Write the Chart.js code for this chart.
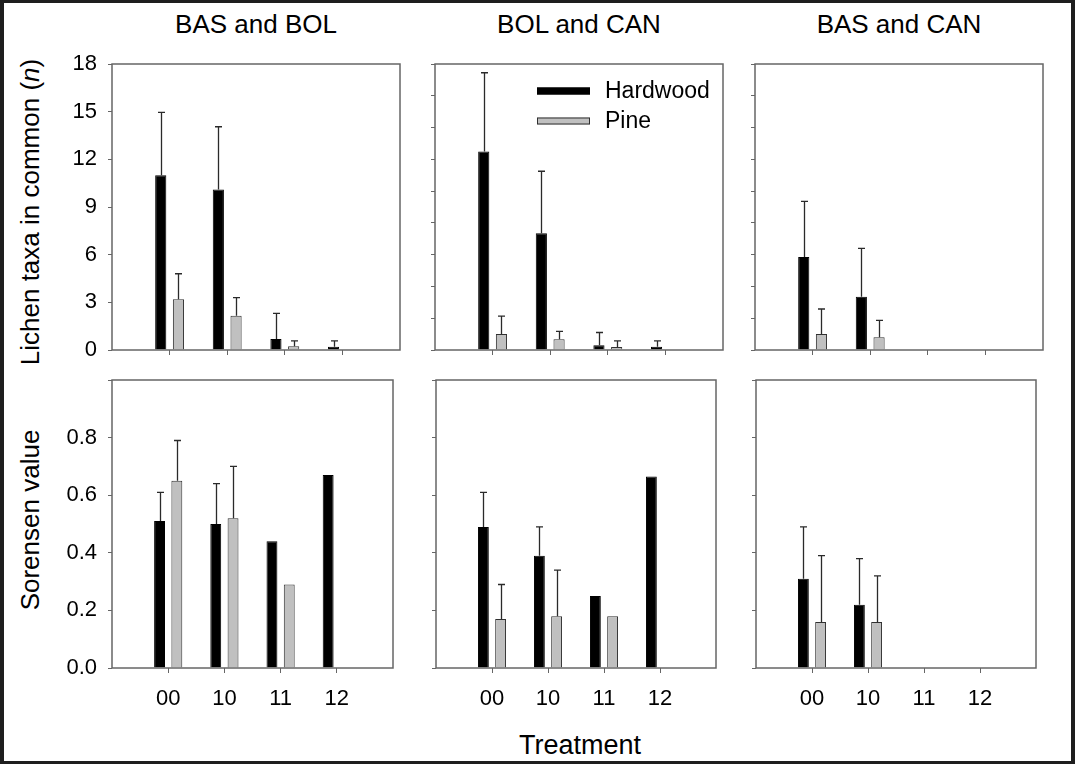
<!DOCTYPE html>
<html>
<head>
<meta charset="utf-8">
<script src="https://cdn.jsdelivr.net/npm/chart.js@4.4.1/dist/chart.umd.min.js"></script>
<style>
  html, body { margin: 0; padding: 0; background: #fff; }
  body { width: 1075px; height: 764px; position: relative; overflow: hidden;
         font-family: 'Liberation Sans', Arial, sans-serif; color: #000; }
  .frame { position: absolute; left: 0; top: 0; width: 1075px; height: 764px; box-sizing: border-box;
           border-style: solid; border-color: #1e1e1e; border-width: 3px 4px 3px 4px; pointer-events: none; z-index: 5; }
  .box { position: absolute; }
  .txt { position: absolute; white-space: nowrap; transform: translate(-50%, -50%); line-height: 1; }
  .rot { transform: translate(-50%, -50%) rotate(-90deg); }
</style>
</head>
<body>
<div class="frame"></div>
<div class="txt" style="left:256px; top:24px; font-size:26px;">BAS and BOL</div>
<div class="txt" style="left:579px; top:24px; font-size:26px;">BOL and CAN</div>
<div class="txt" style="left:899px; top:24px; font-size:26px;">BAS and CAN</div>
<div class="txt rot" style="left:30px; top:212px; font-size:26px;">Lichen taxa in common (<i>n</i>)</div>
<div class="txt rot" style="left:30px; top:520px; font-size:26px;">Sorensen value</div>
<div class="txt" style="left:580px; top:745px; font-size:27px;">Treatment</div>

<div class="box" id="b1"><canvas id="c1"></canvas></div>
<div class="box" id="b2"><canvas id="c2"></canvas></div>
<div class="box" id="b3"><canvas id="c3"></canvas></div>
<div class="box" id="b4"><canvas id="c4"></canvas></div>
<div class="box" id="b5"><canvas id="c5"></canvas></div>
<div class="box" id="b6"><canvas id="c6"></canvas></div>

<script>
// ---------------- DATA ----------------
const treatments = ['00', '10', '11', '12'];
const seriesNames = ['Hardwood', 'Pine'];
const pairTitles = ['BAS and BOL', 'BOL and CAN', 'BAS and CAN'];

// Lichen taxa in common (n): means and upper errors
const taxaHardwood_BAS_BOL = [11.0, 10.1, 0.7, 0.2];
const taxaHardwoodErr_BAS_BOL = [3.95, 3.95, 1.6, 0.37];
const taxaPine_BAS_BOL = [3.2, 2.15, 0.23, null];
const taxaPineErr_BAS_BOL = [1.6, 1.15, 0.35, null];

const taxaHardwood_BOL_CAN = [12.5, 7.35, 0.3, 0.2];
const taxaHardwoodErr_BOL_CAN = [4.95, 3.9, 0.8, 0.37];
const taxaPine_BOL_CAN = [1.0, 0.67, 0.19, null];
const taxaPineErr_BOL_CAN = [1.13, 0.5, 0.38, null];

const taxaHardwood_BAS_CAN = [5.85, 3.35, null, null];
const taxaHardwoodErr_BAS_CAN = [3.5, 3.05, null, null];
const taxaPine_BAS_CAN = [1.0, 0.8, null, null];
const taxaPineErr_BAS_CAN = [1.58, 1.07, null, null];

// Sorensen value: means and upper errors
const sorHardwood_BAS_BOL = [0.51, 0.50, 0.44, 0.67];
const sorHardwoodErr_BAS_BOL = [0.10, 0.14, null, null];
const sorPine_BAS_BOL = [0.65, 0.52, 0.29, null];
const sorPineErr_BAS_BOL = [0.14, 0.18, null, null];

const sorHardwood_BOL_CAN = [0.49, 0.39, 0.25, 0.665];
const sorHardwoodErr_BOL_CAN = [0.12, 0.10, null, null];
const sorPine_BOL_CAN = [0.17, 0.18, 0.18, null];
const sorPineErr_BOL_CAN = [0.12, 0.16, null, null];

const sorHardwood_BAS_CAN = [0.31, 0.22, null, null];
const sorHardwoodErr_BAS_CAN = [0.18, 0.16, null, null];
const sorPine_BAS_CAN = [0.16, 0.16, null, null];
const sorPineErr_BAS_CAN = [0.23, 0.16, null, null];

const taxaTicks = { min: 0, max: 18, labelStep: 3, unlabelledStep: 2 };
const sorTicks = { min: 0, max: 1.0, step: 0.2 };

// ---------------- STYLE ----------------
const FONT = "'Liberation Sans', Arial, sans-serif";
const HARD_FILL = '#000000', HARD_EDGE = '#000000';
const PINE_FILL = '#c0c0c0', PINE_EDGE = '#303030';
const AXIS_COL = '#666666';

const pad = arr => [null, ...arr, null];
const xLabels = ['', ...treatments, ''];

const framePlugin = {
  id: 'frame',
  afterDatasetsDraw(chart) {
    const a = chart.chartArea, ctx = chart.ctx;
    ctx.save();
    ctx.strokeStyle = AXIS_COL;
    ctx.lineWidth = 1.5;
    ctx.strokeRect(a.left, a.top, a.right - a.left, a.bottom - a.top);
    ctx.restore();
  }
};

const errorBarPlugin = {
  id: 'errbars',
  afterDatasetsDraw(chart) {
    const ctx = chart.ctx, ys = chart.scales.y;
    ctx.save();
    ctx.strokeStyle = '#2a2a2a';
    ctx.lineWidth = 1.3;
    chart.data.datasets.forEach((ds, i) => {
      const meta = chart.getDatasetMeta(i);
      meta.data.forEach((el, j) => {
        const v = ds.data[j], e = ds.errors[j];
        if (v == null || e == null) return;
        const yTop = ys.getPixelForValue(v + e);
        const x = Math.round(el.x) + 0.5;
        ctx.beginPath();
        ctx.moveTo(x, el.y);
        ctx.lineTo(x, yTop);
        ctx.moveTo(x - 3.5, yTop);
        ctx.lineTo(x + 3.5, yTop);
        ctx.stroke();
      });
    });
    ctx.restore();
  }
};

const legendPlugin = {
  id: 'innerLegend',
  afterDraw(chart, args, opts) {
    if (!opts.show) return;
    const a = chart.chartArea, ctx = chart.ctx;
    const items = [
      { label: chart.data.datasets[0].label, fill: HARD_FILL, edge: HARD_EDGE, cy: 27 },
      { label: chart.data.datasets[1].label, fill: PINE_FILL, edge: PINE_EDGE, cy: 57 }
    ];
    ctx.save();
    items.forEach(it => {
      const x0 = a.left + 102, y0 = a.top + it.cy - 3.5;
      ctx.fillStyle = it.fill;
      ctx.fillRect(x0, y0, 53, 7);
      ctx.strokeStyle = it.edge;
      ctx.lineWidth = 1;
      ctx.strokeRect(x0 + 0.5, y0 + 0.5, 52, 6);
      ctx.fillStyle = '#000';
      ctx.font = "23px " + FONT;
      ctx.textBaseline = 'middle';
      ctx.textAlign = 'left';
      ctx.fillText(it.label, a.left + 170, a.top + it.cy + 1);
    });
    ctx.restore();
  }
};

function makePanel(n, area, cfg) {
  const yW = cfg.yLabels ? area.left - 45 : 12;
  const padTop = 28, padRight = 6;
  const xH = cfg.xLabels ? 62 : 28;
  const box = document.getElementById('b' + n);
  box.style.left = (area.left - yW) + 'px';
  box.style.top = (area.top - padTop) + 'px';
  box.style.width = (area.width + yW + padRight) + 'px';
  box.style.height = (area.height + padTop + xH) + 'px';

  const yTicks = cfg.kind === 'taxa'
    ? { stepSize: cfg.yLabels ? taxaTicks.labelStep : taxaTicks.unlabelledStep }
    : { stepSize: sorTicks.step };

  new Chart(document.getElementById('c' + n), {
    type: 'bar',
    data: {
      labels: xLabels,
      datasets: [
        { label: seriesNames[0], data: pad(cfg.hard), errors: pad(cfg.hardErr),
          backgroundColor: HARD_FILL, borderColor: HARD_EDGE, borderWidth: 1,
          categoryPercentage: 0.615, barPercentage: 0.63 },
        { label: seriesNames[1], data: pad(cfg.pine), errors: pad(cfg.pineErr),
          backgroundColor: PINE_FILL, borderColor: PINE_EDGE, borderWidth: 1,
          categoryPercentage: 0.615, barPercentage: 0.63 }
      ]
    },
    options: {
      responsive: true,
      maintainAspectRatio: false,
      animation: false,
      events: [],
      layout: { padding: { top: padTop, right: padRight, left: 0, bottom: 0 } },
      plugins: {
        legend: { display: false },
        tooltip: { enabled: false },
        innerLegend: { show: !!cfg.legend }
      },
      scales: {
        x: {
          type: 'category',
          offset: false,
          grid: {
            offset: false, drawOnChartArea: false, drawTicks: true, tickLength: 5,
            color: c => (c.index === 0 || c.index === xLabels.length - 1) ? 'rgba(0,0,0,0)' : AXIS_COL,
            lineWidth: 1
          },
          border: { display: false },
          ticks: {
            display: !!cfg.xLabels, autoSkip: false, maxRotation: 0, padding: 13,
            color: '#000', font: { family: FONT, size: 22 }
          },
          afterFit: s => { s.height = xH; }
        },
        y: {
          type: 'linear',
          min: cfg.kind === 'taxa' ? taxaTicks.min : sorTicks.min,
          max: cfg.kind === 'taxa' ? taxaTicks.max : sorTicks.max,
          grid: { drawOnChartArea: false, drawTicks: true, tickLength: 4, color: AXIS_COL, lineWidth: 1 },
          border: { display: false },
          ticks: Object.assign({
            display: !!cfg.yLabels, padding: 11, color: '#000',
            font: { family: FONT, size: 22 },
            callback: v => cfg.kind === 'taxa' ? String(v) : (v > 0.99 ? '' : Number(v).toFixed(1))
          }, yTicks),
          afterFit: s => { s.width = yW; }
        }
      }
    },
    plugins: [framePlugin, errorBarPlugin, legendPlugin]
  });
}

const topTop = 64, topH = 286, botTop = 380, botH = 288, panelW = 288;
const lefts = [112, 435, 755];

makePanel(1, { left: lefts[0], top: topTop, width: panelW, height: topH },
  { kind: 'taxa', yLabels: true, xLabels: false, hard: taxaHardwood_BAS_BOL, hardErr: taxaHardwoodErr_BAS_BOL, pine: taxaPine_BAS_BOL, pineErr: taxaPineErr_BAS_BOL });
makePanel(2, { left: lefts[1], top: topTop, width: panelW, height: topH },
  { kind: 'taxa', yLabels: false, xLabels: false, legend: true, hard: taxaHardwood_BOL_CAN, hardErr: taxaHardwoodErr_BOL_CAN, pine: taxaPine_BOL_CAN, pineErr: taxaPineErr_BOL_CAN });
makePanel(3, { left: lefts[2], top: topTop, width: panelW, height: topH },
  { kind: 'taxa', yLabels: false, xLabels: false, hard: taxaHardwood_BAS_CAN, hardErr: taxaHardwoodErr_BAS_CAN, pine: taxaPine_BAS_CAN, pineErr: taxaPineErr_BAS_CAN });
makePanel(4, { left: lefts[0], top: botTop, width: panelW, height: botH },
  { kind: 'sor', yLabels: true, xLabels: true, hard: sorHardwood_BAS_BOL, hardErr: sorHardwoodErr_BAS_BOL, pine: sorPine_BAS_BOL, pineErr: sorPineErr_BAS_BOL });
makePanel(5, { left: lefts[1], top: botTop, width: panelW, height: botH },
  { kind: 'sor', yLabels: false, xLabels: true, hard: sorHardwood_BOL_CAN, hardErr: sorHardwoodErr_BOL_CAN, pine: sorPine_BOL_CAN, pineErr: sorPineErr_BOL_CAN });
makePanel(6, { left: lefts[2], top: botTop, width: panelW, height: botH },
  { kind: 'sor', yLabels: false, xLabels: true, hard: sorHardwood_BAS_CAN, hardErr: sorHardwoodErr_BAS_CAN, pine: sorPine_BAS_CAN, pineErr: sorPineErr_BAS_CAN });
</script>
</body>
</html>
